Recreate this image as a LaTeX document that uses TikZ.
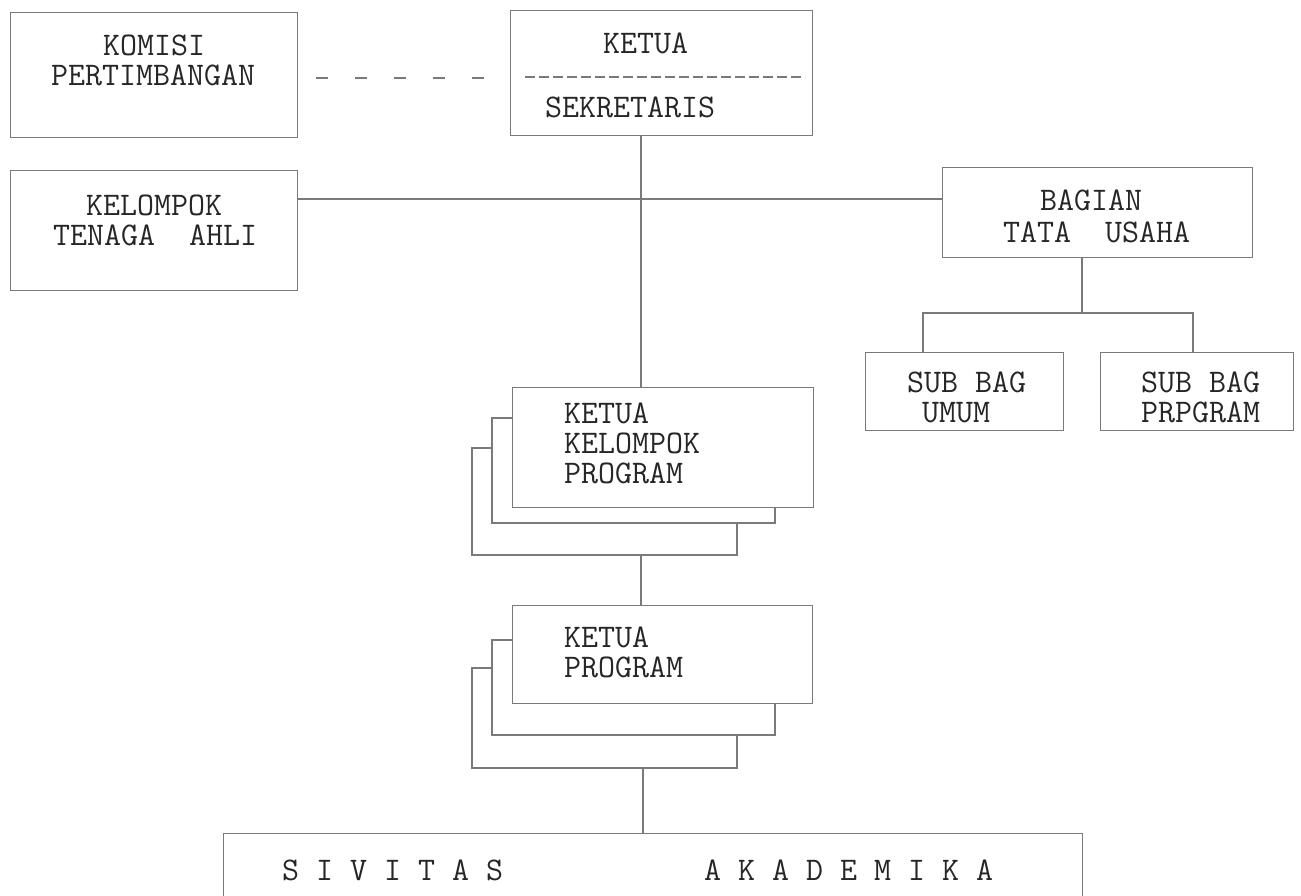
\documentclass[tikz,border=0pt]{standalone}
\usetikzlibrary{calc}
\definecolor{ln}{gray}{0.48}
\definecolor{tx}{gray}{0.15}
\begin{document}
\begin{tikzpicture}[x=1pt,y=-1pt,
  box/.style={draw=ln, line width=1.4pt, inner sep=0pt, anchor=north west},
  back/.style={draw=ln, line width=1.4pt},
  conn/.style={draw=ln, line width=1.4pt},
  lbl/.style={text=tx, inner sep=0pt, anchor=base west, text height=20pt, text depth=0pt,
    font=\fontsize{33}{38}\selectfont\ttfamily}]
\useasboundingbox (0,0) rectangle (1301,895);
\fill[white] (0,0) rectangle (1301,895);
\clip (0,0) rectangle (1301,895);

% boxes
\node[box, minimum width=287pt, minimum height=125pt] (komisi) at (10,12) {};
\node[box, minimum width=302pt, minimum height=125pt] (ketua) at (510,10) {};
\node[box, minimum width=287pt, minimum height=120pt] (kelompok) at (10,170) {};
\node[box, minimum width=310pt, minimum height=90pt] (bagian) at (942,167) {};
\node[box, minimum width=198pt, minimum height=78pt] (umum) at (865,352) {};
\node[box, minimum width=193pt, minimum height=78pt] (subprog) at (1100,352) {};
\node[box, minimum width=301pt, minimum height=120pt] (kkp) at (512,387) {};
\node[box, minimum width=300pt, minimum height=98pt] (kp) at (512,605) {};
\node[box, minimum width=859pt, minimum height=100pt] (sivitas) at (223,833) {};

% stacked back sheets
\draw[back] (512,418) -- (492,418) -- (492,523) -- (775,523) -- (775,507);
\draw[back] (492,448) -- (472,448) -- (472,555) -- (737,555) -- (737,523);
\draw[back] (512,640) -- (492,640) -- (492,735) -- (775,735) -- (775,703);
\draw[back] (492,668) -- (472,668) -- (472,768) -- (737,768) -- (737,735);

% divider inside ketua box
\draw[conn, dash pattern=on 10pt off 4pt] (525,77) -- (805,77);

% labels
\node[lbl] (tkomisi) at (103,55) {KOMISI};
\node[lbl] (tpert) at (51,85) {PERTIMBANGAN};
\node[lbl] (tketua) at (603,53) {KETUA};
\node[lbl] (tsekr) at (545,117) {SEKRETARIS};
\node[lbl] (tkel) at (86,215) {KELOMPOK};
\node[lbl] (ttena) at (53,245) {TENAGA~~AHLI};
\node[lbl] (tbag) at (1040,210) {BAGIAN};
\node[lbl] (ttata) at (1003,242) {TATA~~USAHA};
\node[lbl] (tsub1) at (907,392) {SUB BAG};
\node[lbl] (tumum) at (922,422) {UMUM};
\node[lbl] (tsub2) at (1141,392) {SUB BAG};
\node[lbl] (tprp) at (1141,422) {PRPGRAM};
\node[lbl] (tk1) at (564,423) {KETUA};
\node[lbl] (tk2) at (564,453) {KELOMPOK};
\node[lbl] (tk3) at (564,483) {PROGRAM};
\node[lbl] (tp1) at (564,647) {KETUA};
\node[lbl] (tp2) at (564,677) {PROGRAM};
\node[lbl] (tsiv) at (282,880) {S I V I T A S};
\node[lbl] (taka) at (704,880) {A K A D E M I K A};

% connectors
\coordinate (dv) at (0,78);
\draw[conn, dash pattern=on 12pt off 27pt, dash phase=21pt] (komisi.east |- dv) -- (ketua.west |- dv);
\coordinate (vx) at (641,0);
\draw[conn] (vx |- ketua.south) -- (vx |- kkp.north);
\coordinate (hl) at (0,199);
\draw[conn] (kelompok.east |- hl) -- (bagian.west |- hl);
\coordinate (bs) at (1082,313);
\draw[conn] (bs |- bagian.south) -- (bs);
\coordinate (bl) at (923,313);
\coordinate (brr) at (1193,313);
\draw[conn] (bl |- umum.north) -- (bl) -- (brr) -- (brr |- subprog.north);
\coordinate (kkpb) at (641,555);
\draw[conn] (kkpb) -- (kkpb |- kp.north);
\coordinate (kpb) at (643,768);
\draw[conn] (kpb) -- (kpb |- sivitas.north);
\end{tikzpicture}
\end{document}
